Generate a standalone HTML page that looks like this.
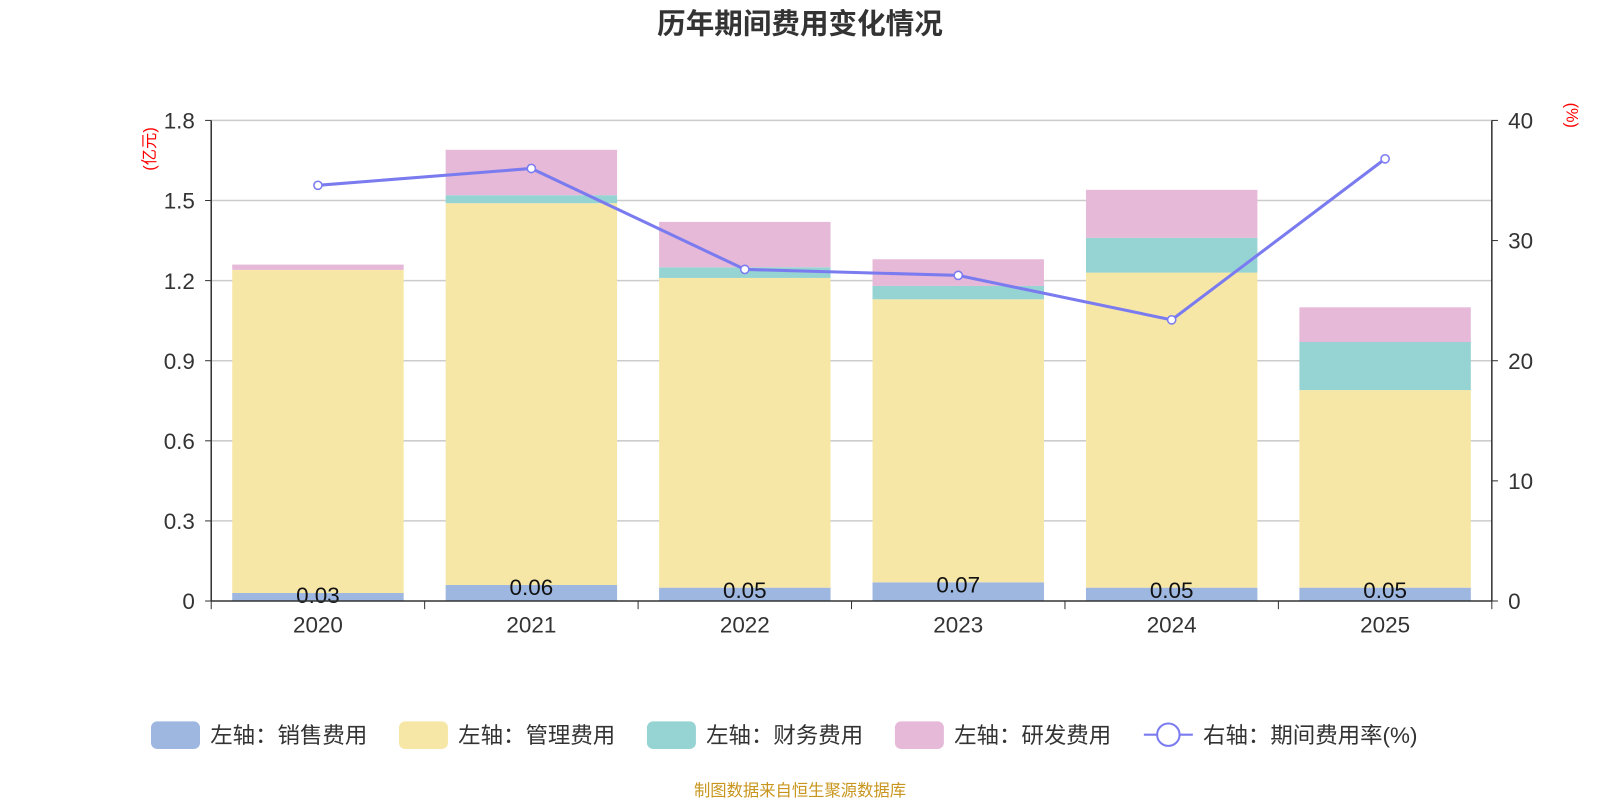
<!DOCTYPE html>
<html><head><meta charset="utf-8"><style>
body{margin:0;background:#fff;width:1600px;height:800px;overflow:hidden;font-family:"Liberation Sans","Noto Sans CJK SC",sans-serif}
svg text{font-family:"Liberation Sans","Noto Sans CJK SC",sans-serif}
</style></head><body>
<svg id="chart" width="1600" height="800" xmlns="http://www.w3.org/2000/svg">
<g transform="scale(1.0204)">
<text x="784" y="33" text-anchor="middle" font-size="28" font-weight="bold" fill="#333">历年期间费用变化情况</text>
<text x="784" y="780" text-anchor="middle" font-size="16" fill="#c8961e">制图数据来自恒生聚源数据库</text>
<g id="grid"></g><g id="bars"></g><g id="axes"></g><g id="line"></g><g id="legend"></g>
</g>
</svg>
<script>
const categories=['2020','2021','2022','2023','2024','2025'];
const sales=[0.03,0.06,0.05,0.07,0.05,0.05];
const mgmt=[1.21,1.43,1.16,1.06,1.18,0.74];
const fin=[0.00,0.03,0.04,0.05,0.13,0.18];
const rd=[0.02,0.17,0.17,0.10,0.18,0.13];
const rate=[34.6,36.0,27.6,27.1,23.4,36.8];
const leftTicks=[0,0.3,0.6,0.9,1.2,1.5,1.8];
const rightTicks=[0,10,20,30,40];
const NS='http://www.w3.org/2000/svg';
const X0=207,X1=1462,Y0=589,Y1=118;
const band=(X1-X0)/categories.length;
const xc=i=>X0+band*(i+0.5);
const yL=v=>Y0-(v/1.8)*(Y0-Y1);
const yR=v=>Y0-(v/40)*(Y0-Y1);
function mk(tag,attrs,parent,txt){const e=document.createElementNS(NS,tag);for(const k in attrs)e.setAttribute(k,attrs[k]);if(txt!==undefined)e.textContent=txt;document.getElementById(parent).appendChild(e);return e;}
leftTicks.forEach(t=>{
 if(t>0){const g=mk('line',{x1:X0,x2:X1,y1:yL(t),y2:yL(t),stroke:'#ccc','stroke-width':1.5},'grid');
 
 }
 const l=mk('text',{x:X0-16,y:yL(t)+8,'text-anchor':'end','font-size':22,fill:'#333'},'axes',t===0?'0':t.toFixed(1));
 
 
 mk('line',{x1:X0-6,x2:X0,y1:yL(t),y2:yL(t),stroke:'#333'},'axes');
});
rightTicks.forEach(t=>{
 const l=mk('text',{x:X1+16,y:yR(t)+8,'font-size':22,fill:'#333'},'axes',String(t));
 
 
 mk('line',{x1:X1,x2:X1+6,y1:yR(t),y2:yR(t),stroke:'#333'},'axes');
});
mk('line',{x1:X0,x2:X0,y1:Y1,y2:Y0,stroke:'#333','stroke-width':1.5},'axes');
mk('line',{x1:X1,x2:X1,y1:Y1,y2:Y0,stroke:'#333','stroke-width':1.5},'axes');
mk('line',{x1:X0,x2:X1,y1:Y0,y2:Y0,stroke:'#333','stroke-width':1.5},'axes');
for(let i=0;i<=categories.length;i++)mk('line',{x1:X0+band*i,x2:X0+band*i,y1:Y0,y2:Y0+8,stroke:'#333'},'axes');
const lu=mk('text',{transform:'translate(152,146) rotate(-90)','text-anchor':'middle','font-size':16,fill:'red'},'axes','(亿元)');


const ru=mk('text',{transform:'translate(1535,113) rotate(90)','text-anchor':'middle','font-size':16,fill:'red'},'axes','(%)');


const series=[[sales,'#9db7e1'],[mgmt,'#f7e7a7'],[fin,'#96d3d3'],[rd,'#e6b9d8']];
const bw=168;
categories.forEach((c,i)=>{
 const xl=mk('text',{x:xc(i),y:620,'text-anchor':'middle','font-size':22,fill:'#333'},'axes',c);
 
 
 let base=0;
 series.forEach(([arr,col])=>{
  const v=arr[i];
  const r=mk('rect',{x:xc(i)-bw/2,y:yL(base+v),width:bw,height:Math.max(0,yL(base)-yL(base+v)),fill:col},'bars');
  
  
  base+=v;
 });
 const sl=mk('text',{x:xc(i),y:yL(sales[i])+10,'text-anchor':'middle','font-size':22,fill:'#111'},'bars',sales[i].toFixed(2));
 
 
});
const pts=rate.map((v,i)=>xc(i)+','+yR(v)).join(' ');
const pl=mk('polyline',{points:pts,fill:'none',stroke:'#7b7bf0','stroke-width':3},'line');


rate.forEach((v,i)=>{
 const c=mk('circle',{cx:xc(i),cy:yR(v),r:4,fill:'#fff',stroke:'#7b7bf0','stroke-width':1.5},'line');
 
 
});
const legendItems=[['左轴：销售费用','#9db7e1',148],['左轴：管理费用','#f7e7a7',391],['左轴：财务费用','#96d3d3',634],['左轴：研发费用','#e6b9d8',877]];
legendItems.forEach(([t,col,x])=>{
 const r=mk('rect',{x:x,y:707,width:48,height:27,rx:6,fill:col},'legend');
 
 
 const tx=mk('text',{x:x+58,y:728,'font-size':22,fill:'#333'},'legend',t);
 
 
});
mk('line',{x1:1121,x2:1169,y1:720,y2:720,stroke:'#7b7bf0','stroke-width':2},'legend');
const lc=mk('circle',{cx:1145,cy:720,r:11,fill:'#fff',stroke:'#7b7bf0','stroke-width':2},'legend');


const lt=mk('text',{x:1179,y:728,'font-size':22,fill:'#333'},'legend','右轴：期间费用率(%)');


</script>
</body></html>
